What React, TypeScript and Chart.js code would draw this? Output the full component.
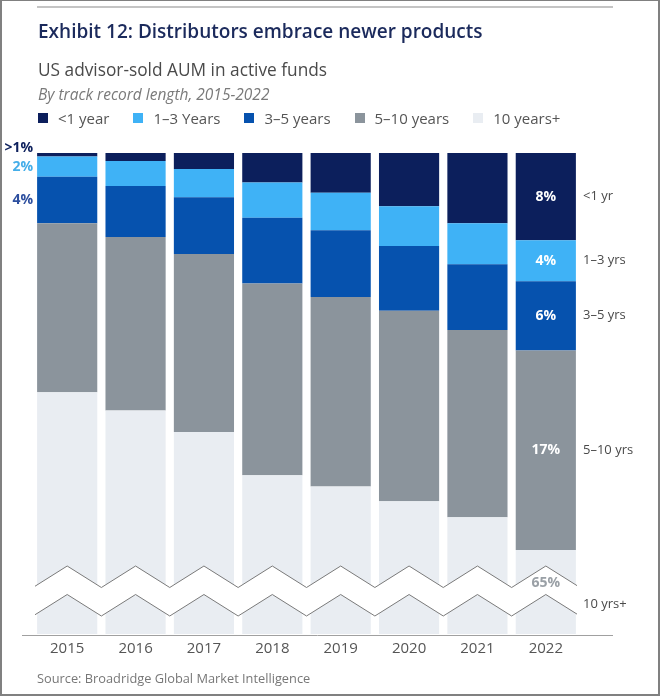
import React, { useEffect, useRef } from "react";
import { Chart, registerables } from "chart.js";

Chart.register(...registerables);

// ---------- data ----------
const years = ["2015", "2016", "2017", "2018", "2019", "2020", "2021", "2022"];
const seriesNames = ["<1 year", "1–3 Years", "3–5 years", "5–10 years", "10 years+"];
const shortNames = ["<1 yr", "1–3 yrs", "3–5 yrs", "5–10 yrs", "10 yrs+"];

const lessThan1 = [0.3, 0.7, 1.4, 2.6, 3.5, 4.7, 6.2, 7.7];
const oneToThree = [1.8, 2.2, 2.5, 3.1, 3.3, 3.5, 3.6, 3.6];
const threeToFive = [4.1, 4.5, 5.0, 5.8, 5.9, 5.7, 5.8, 6.1];
const fiveToTen = [14.9, 15.3, 15.7, 16.9, 16.7, 16.8, 16.5, 17.6];
const tenPlus = [78.9, 77.3, 75.4, 71.6, 70.6, 69.3, 67.9, 65.0];

const labels2022 = ["8%", "4%", "6%", "17%", "65%"];
const labels2015 = [">1%", "2%", "4%"];

const seriesColors = ["#0c1f5c", "#3fb2f6", "#0652ae", "#8b949c", "#e9edf2"];
const leftLabelColors = ["#0c1f5c", "#45aee9", "#2d4f9f"];

const yMin = 57.6; // broken axis: only the top part of the scale is shown
const yMax = 100;

const FONT = '"Open Sans", "Noto Sans", sans-serif';

// series listed top-first; stacked bottom-first
const seriesValues = [lessThan1, oneToThree, threeToFive, fiveToTen, tenPlus];

const annotations = {
  id: "annotations",
  afterDatasetsDraw(chart: any) {
    const { ctx, chartArea: ca } = chart;
    const x = chart.scales.x;
    const n = years.length;
    const c0 = x.getPixelForValue(0);
    const step = x.getPixelForValue(1) - c0;
    const half = step / 2;
    const nSeries = seriesValues.length;
    const dsIndex = (s: number) => nSeries - 1 - s;

    // --- zigzag break ---
    const x0 = ca.left + 2;
    const x1 = ca.right - 3;
    const zy = (px: number, peak: number, valley: number) => {
      const rel = (((px - c0) % step) + step) % step;
      const d = Math.min(rel, step - rel);
      return peak + (valley - peak) * (d / half);
    };
    const xs: number[] = [x0];
    for (let i = -1; i <= n; i++) {
      const c = c0 + i * step;
      [c - half, c].forEach((v) => {
        if (v > x0 && v < x1) xs.push(v);
      });
    }
    xs.push(x1);
    xs.sort((a, b) => a - b);
    const upPeak = ca.bottom - 68;
    const upValley = ca.bottom - 46.5;
    const loPeak = ca.bottom - 39.5;
    const loValley = ca.bottom - 18;
    ctx.save();
    ctx.beginPath();
    xs.forEach((px, i) => {
      const py = zy(px, upPeak, upValley);
      if (i === 0) ctx.moveTo(px, py);
      else ctx.lineTo(px, py);
    });
    for (let i = xs.length - 1; i >= 0; i--) ctx.lineTo(xs[i], zy(xs[i], loPeak, loValley));
    ctx.closePath();
    ctx.fillStyle = "#ffffff";
    ctx.fill();
    ctx.strokeStyle = "#7a7a7a";
    ctx.lineWidth = 1;
    [
      [upPeak, upValley],
      [loPeak, loValley],
    ].forEach(([p, v]) => {
      ctx.beginPath();
      xs.forEach((px, i) => {
        const py = zy(px, p, v);
        if (i === 0) ctx.moveTo(px, py);
        else ctx.lineTo(px, py);
      });
      ctx.stroke();
    });

    // --- x axis line ---
    ctx.strokeStyle = "#a0a0a0";
    ctx.lineWidth = 1;
    ctx.beginPath();
    ctx.moveTo(ca.left - 11, ca.bottom + 1.5);
    ctx.lineTo(ca.right + 33, ca.bottom + 1.5);
    ctx.stroke();

    // --- labels inside last bar and at right ---
    const last = n - 1;
    ctx.textBaseline = "middle";
    for (let s = 0; s < nSeries; s++) {
      const bar = chart.getDatasetMeta(dsIndex(s)).data[last];
      let cy = (bar.y + Math.min(bar.base, ca.bottom)) / 2;
      let ry = cy;
      if (s === nSeries - 1) {
        cy = ca.bottom - 51;
        ry = ca.bottom - 30;
      }
      ctx.textAlign = "center";
      ctx.font = `bold 14px ${FONT}`;
      ctx.fillStyle = s === nSeries - 1 ? "#9aa0a6" : "#ffffff";
      ctx.fillText(labels2022[s], bar.x, cy);
      ctx.textAlign = "left";
      ctx.font = `13px ${FONT}`;
      ctx.fillStyle = "#4a4a4a";
      ctx.fillText(shortNames[s], ca.right + 3, ry);
    }

    // --- labels left of the first bar ---
    ctx.textAlign = "right";
    ctx.font = `bold 14px ${FONT}`;
    for (let s = 0; s < labels2015.length; s++) {
      const bar = chart.getDatasetMeta(dsIndex(s)).data[0];
      const cy = s === 0 ? bar.y - 5 : (bar.y + bar.base) / 2;
      ctx.fillStyle = leftLabelColors[s];
      ctx.fillText(labels2015[s], ca.left, cy);
    }
    ctx.restore();
  },
};

export default function App() {
  const ref = useRef<HTMLCanvasElement>(null);

  useEffect(() => {
    if (!ref.current) return;
    const datasets = seriesValues
      .map((vals, s) => ({
        label: seriesNames[s],
        data: vals,
        backgroundColor: seriesColors[s],
        borderWidth: 0,
        barPercentage: 0.88,
        categoryPercentage: 1,
      }))
      .reverse();
    const chart = new Chart(ref.current, {
      type: "bar",
      data: { labels: years, datasets },
      options: {
        responsive: false,
        animation: false,
        layout: { padding: { top: 153, left: 33, right: 80, bottom: 34 } },
        plugins: { legend: { display: false }, tooltip: { enabled: false } },
        scales: {
          x: {
            stacked: true,
            grid: { display: false, drawTicks: false },
            border: { display: false },
            ticks: { color: "#555555", font: { family: FONT, size: 15 }, padding: 6 },
          },
          y: { stacked: true, display: false, min: yMin, max: yMax },
        },
      },
      plugins: [annotations],
    });
    return () => chart.destroy();
  }, []);

  return (
    <div
      style={{
        position: "absolute",
        left: 0,
        top: 0,
        width: 660,
        height: 698,
        background: "#ffffff",
        fontFamily: FONT,
        overflow: "hidden",
      }}
    >
      <canvas ref={ref} width={660} height={698} style={{ position: "absolute", left: 0, top: 0, width: 660, height: 698 }} />
      <div style={{ position: "absolute", left: 37, top: 6, width: 576, height: 2, background: "#c4c4c4" }} />
      <div
        style={{
          position: "absolute",
          left: 38,
          top: 19,
          fontSize: 19,
          lineHeight: "25px",
          fontWeight: 600,
          color: "#1b2a5c",
          whiteSpace: "nowrap",
        }}
      >
        Exhibit 12: Distributors embrace newer products
      </div>
      <div style={{ position: "absolute", left: 38, top: 58, fontSize: 17.3, lineHeight: "24px", color: "#4a4a4a", whiteSpace: "nowrap" }}>
        US advisor-sold AUM in active funds
      </div>
      <div
        style={{
          position: "absolute",
          left: 38,
          top: 84,
          fontSize: 15.5,
          lineHeight: "21px",
          fontStyle: "italic",
          color: "#7a7a7a",
          whiteSpace: "nowrap",
        }}
      >
        By track record length, 2015-2022
      </div>
      <div style={{ position: "absolute", left: 38, top: 107, display: "flex", gap: 24, whiteSpace: "nowrap" }}>
        {seriesNames.map((name, i) => (
          <div key={name} style={{ display: "flex", alignItems: "center", fontSize: 15, lineHeight: "22px", color: "#555555" }}>
            <span style={{ display: "inline-block", width: 10, height: 10, background: seriesColors[i], marginRight: 10 }} />
            {name}
          </div>
        ))}
      </div>
      <div style={{ position: "absolute", left: 37, top: 669, fontSize: 12.8, lineHeight: "18px", color: "#777777", whiteSpace: "nowrap" }}>
        Source: Broadridge Global Market Intelligence
      </div>
      <div
        style={{
          position: "absolute",
          left: 0,
          top: 0,
          width: 660,
          height: 696,
          boxSizing: "border-box",
          borderStyle: "solid",
          borderColor: "#808080",
          borderWidth: "1px 2px 2px 2px",
          pointerEvents: "none",
        }}
      />
    </div>
  );
}
